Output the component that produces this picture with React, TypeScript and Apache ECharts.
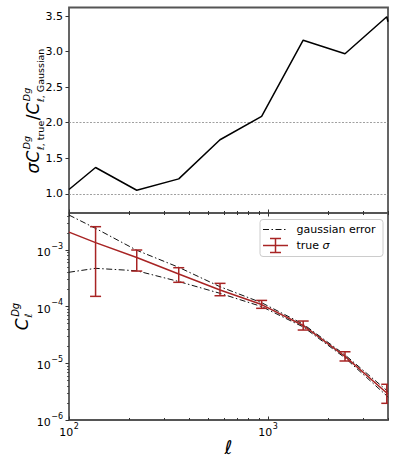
import React, { useEffect, useRef } from 'react';
import * as echarts from 'echarts';

// ---------------- data ----------------
const ELL_BINS = [136, 219, 356, 574, 929, 1503, 2438, 3954];
const RATIO_ELL = [100, 136, 219, 356, 574, 929, 1503, 2438, 3954, 4010];
const RATIO = [1.06, 1.37, 1.05, 1.21, 1.76, 2.09, 3.16, 2.97, 3.49, 3.42];
const CURVE_ELL = [100, 136, 219, 356, 574, 929, 1503, 2438, 3954, 4010];
const CL_TRUE = [2.07e-3, 1.35e-3, 7.38e-4, 3.77e-4, 1.97e-4, 1.09e-4, 4.66e-5, 1.33e-5, 3.0e-6, 2.85e-6];
const GAUSS_UP = [4.14e-3, 2.41e-3, 9.9e-4, 4.95e-4, 2.25e-4, 1.175e-4, 4.93e-5, 1.41e-5, 3.33e-6, 3.17e-6];
const GAUSS_LO = [4.05e-4, 4.75e-4, 4.3e-4, 2.78e-4, 1.72e-4, 1.005e-4, 4.39e-5, 1.25e-5, 2.67e-6, 2.53e-6];
const BAR_LO = [1.52e-4, 4.25e-4, 2.69e-4, 1.56e-4, 9.35e-5, 3.87e-5, 1.1e-5, 1.97e-6];
const BAR_HI = [2.58e-3, 1.0e-3, 4.87e-4, 2.58e-4, 1.29e-4, 5.58e-5, 1.6e-5, 4.27e-6];

const X_MIN = 100;
const X_MAX = 4010;
const X_MAJOR = [100, 1000];
const X_MINOR = [200, 300, 400, 500, 600, 700, 800, 900, 2000, 3000, 4000];
const Y_TOP_MIN = 0.73;
const Y_TOP_MAX = 3.62;
const Y_TOP_TICKS = [1.0, 1.5, 2.0, 2.5, 3.0, 3.5];
const REF_LINES = [1, 2];
const Y_BOT_MIN = 1e-6;
const Y_BOT_MAX = 4.5e-3;
const Y_BOT_MAJOR = [1e-6, 1e-5, 1e-4, 1e-3];
const Y_BOT_MINOR = [
  2e-6, 3e-6, 4e-6, 5e-6, 6e-6, 7e-6, 8e-6, 9e-6,
  2e-5, 3e-5, 4e-5, 5e-5, 6e-5, 7e-5, 8e-5, 9e-5,
  2e-4, 3e-4, 4e-4, 5e-4, 6e-4, 7e-4, 8e-4, 9e-4,
  2e-3, 3e-3, 4e-3,
];
const LEGEND_LABELS = ['gaussian error', 'true '];

// ---------------- style ----------------
const FONT = 'DejaVu Sans';
const RED = '#a82424';
const SPINE = '#555555';
const TICK = '#333333';

const pow10Label = (v: number) => {
  const e = Math.round(Math.log10(v));
  return `{b|10}{s|${String(e).replace('-', '\u2212')}}`;
};
const powRich = {
  b: { fontSize: 11, fontFamily: FONT, color: '#000', lineHeight: 16, verticalAlign: 'bottom' },
  s: { fontSize: 8, fontFamily: FONT, color: '#000', lineHeight: 16, verticalAlign: 'top', padding: [0, 0, 0, 0.5] },
};

let ctx: CanvasRenderingContext2D | null = null;
const measure = (text: string, size: number, italic: boolean) => {
  if (!ctx) ctx = document.createElement('canvas').getContext('2d');
  if (!ctx) return text.length * size * 0.6;
  ctx.font = `${italic ? 'italic ' : ''}${size}px "${FONT}"`;
  return ctx.measureText(text).width;
};

const tx = (x: number, y: number, text: string, size: number, italic: boolean, extra: any = {}) => ({
  type: 'text',
  x,
  y,
  style: {
    text,
    fontSize: size,
    fontFamily: FONT,
    fontStyle: italic ? 'italic' : 'normal',
    fill: '#000',
    align: 'left',
    verticalAlign: 'middle',
    ...extra,
  },
});

const richScript = (x: number, y: number, rest: string, size: number) => ({
  type: 'text',
  x,
  y,
  style: {
    text: `{i|\u2113}{r|${rest}}`,
    fontSize: size,
    fontFamily: FONT,
    fill: '#000',
    align: 'left',
    verticalAlign: 'middle',
    rich: {
      i: { fontSize: size, fontFamily: FONT, fontStyle: 'italic', fill: '#000' },
      r: { fontSize: size, fontFamily: FONT, fontStyle: 'normal', fill: '#000' },
    },
  },
});

function buildTopLabel() {
  const F = 17;
  const S = 9.5;
  const mainY = -0.33 * F;
  const supY = -9 - 0.33 * S;
  const subY = 4.5 - 0.33 * S;
  const children: any[] = [];
  let x = 0;
  children.push(tx(x, mainY, '\u03c3C', F, true));
  x += measure('\u03c3C', F, true) + 0.5;
  children.push(tx(x + 1, supY, 'Dg', S, true));
  children.push(richScript(x, subY, ', true', S));
  x += Math.max(measure('Dg', S, true) + 1, measure('\u2113', S, true) + measure(', true', S, false)) + 0.5;
  children.push(tx(x, mainY, '/', F, false));
  x += measure('/', F, false);
  children.push(tx(x, mainY, 'C', F, true));
  x += measure('C', F, true) + 0.5;
  children.push(tx(x + 1, supY, 'Dg', S, true));
  children.push(richScript(x, subY, ', Gaussian', S));
  x += Math.max(measure('Dg', S, true) + 1, measure('\u2113', S, true) + measure(', Gaussian', S, false));
  const centerY = 111;
  return { type: 'group', x: 39, y: centerY + x / 2, rotation: Math.PI / 2, children };
}

function buildBottomLabel() {
  const F = 17;
  const S = 10;
  const children: any[] = [];
  children.push(tx(0, -0.33 * F, 'C', F, true));
  const x = measure('C', F, true) + 0.5;
  children.push(tx(x + 1, -9 - 0.33 * S, 'Dg', S, true));
  children.push(tx(x, 4 - 0.33 * S, '\u2113', S, true));
  const L = x + measure('Dg', S, true) + 1;
  return { type: 'group', x: 28, y: 316.5 + L / 2, rotation: Math.PI / 2, children };
}

function buildLegend() {
  const z = 100;
  const lx = 263;
  const lw = 25;
  const y1 = 229.5;
  const y2 = 245.5;
  return {
    type: 'group',
    z,
    children: [
      {
        type: 'rect', z,
        shape: { x: 260, y: 219.5, width: 123, height: 37, r: 3 },
        style: { fill: 'rgba(255,255,255,0.85)', stroke: '#cccccc', lineWidth: 1 },
      },
      {
        type: 'line', z: z + 1,
        shape: { x1: lx, y1, x2: lx + lw, y2: y1 },
        style: { stroke: '#111', lineWidth: 1, lineDash: [6, 2.5, 1.5, 2.5] },
      },
      { ...tx(296.5, y1, LEGEND_LABELS[0], 11, false), z: z + 1 },
      {
        type: 'line', z: z + 1,
        shape: { x1: lx, y1: y2, x2: lx + lw, y2 },
        style: { stroke: RED, lineWidth: 1.5 },
      },
      {
        type: 'line', z: z + 1,
        shape: { x1: lx + lw / 2, y1: y2 - 7, x2: lx + lw / 2, y2: y2 + 7 },
        style: { stroke: RED, lineWidth: 1.5 },
      },
      {
        type: 'line', z: z + 1,
        shape: { x1: lx + lw / 2 - 5.5, y1: y2 - 7, x2: lx + lw / 2 + 5.5, y2: y2 - 7 },
        style: { stroke: RED, lineWidth: 1.5 },
      },
      {
        type: 'line', z: z + 1,
        shape: { x1: lx + lw / 2 - 5.5, y1: y2 + 7, x2: lx + lw / 2 + 5.5, y2: y2 + 7 },
        style: { stroke: RED, lineWidth: 1.5 },
      },
      {
        type: 'text', z: z + 1, x: 296.5, y: y2,
        style: {
          text: `{n|${LEGEND_LABELS[1]}}{s|\u03c3}`,
          fontSize: 11, fontFamily: FONT, fill: '#000', align: 'left', verticalAlign: 'middle',
          rich: {
            n: { fontSize: 11, fontFamily: FONT, fill: '#000' },
            s: { fontSize: 11, fontFamily: FONT, fontStyle: 'italic', fill: '#000' },
          },
        },
      },
    ],
  };
}

const labelStyle = { color: '#000', fontSize: 11, fontFamily: FONT };

const xAxisDef = (gridIndex: number, position: string, ticks: number[], len: number, labels: boolean) => ({
  type: 'log',
  logBase: 10,
  gridIndex,
  position,
  min: X_MIN,
  max: X_MAX,
  axisLine: { show: false, onZero: false },
  splitLine: { show: false },
  minorTick: { show: false },
  minorSplitLine: { show: false },
  axisTick: { show: true, inside: true, length: len, customValues: ticks, lineStyle: { color: TICK, width: 1 } },
  axisLabel: labels
    ? { show: true, customValues: ticks, formatter: (v: number) => pow10Label(v), margin: 2, rich: powRich, ...labelStyle }
    : { show: false },
});

function buildOption(): any {
  const ratioData = RATIO_ELL.map((l, i) => [l, RATIO[i]]);
  const up = CURVE_ELL.map((l, i) => [l, GAUSS_UP[i]]);
  const lo = CURVE_ELL.map((l, i) => [l, GAUSS_LO[i]]);
  const tr = CURVE_ELL.map((l, i) => [l, CL_TRUE[i]]);
  const bars = ELL_BINS.map((l, i) => [l, BAR_LO[i], BAR_HI[i]]);
  const dashDot = [6, 2.5, 1.5, 2.5];

  return {
    animation: false,
    backgroundColor: '#fff',
    grid: [
      {
        left: 69, right: 9, top: 7.5, height: 205.5,
        show: true, borderColor: SPINE, borderWidth: 1.8, backgroundColor: 'transparent',
        containLabel: false, outerBoundsMode: 'none',
      },
      {
        left: 69, right: 9, top: 213, bottom: 50,
        show: true, borderColor: SPINE, borderWidth: 1.8, backgroundColor: 'transparent',
        containLabel: false, outerBoundsMode: 'none',
      },
    ],
    xAxis: [
      xAxisDef(0, 'bottom', X_MAJOR, 3.5, false),
      xAxisDef(0, 'bottom', X_MINOR, 2, false),
      xAxisDef(1, 'top', X_MAJOR, 3.5, false),
      xAxisDef(1, 'top', X_MINOR, 2, false),
      xAxisDef(1, 'bottom', X_MAJOR, 3.5, true),
      xAxisDef(1, 'bottom', X_MINOR, 2, false),
    ],
    yAxis: [
      {
        type: 'value', gridIndex: 0, position: 'left', min: Y_TOP_MIN, max: Y_TOP_MAX,
        axisLine: { show: false, onZero: false }, splitLine: { show: false },
        axisTick: { show: true, inside: false, length: 3.5, customValues: Y_TOP_TICKS, lineStyle: { color: TICK, width: 1 } },
        axisLabel: { show: true, customValues: Y_TOP_TICKS, formatter: (v: number) => v.toFixed(1), margin: 6, ...labelStyle },
      },
      {
        type: 'log', logBase: 10, gridIndex: 1, position: 'left', min: Y_BOT_MIN, max: Y_BOT_MAX,
        axisLine: { show: false, onZero: false }, splitLine: { show: false },
        minorTick: { show: false }, minorSplitLine: { show: false },
        axisTick: { show: true, inside: false, length: 3.5, customValues: Y_BOT_MAJOR, lineStyle: { color: TICK, width: 1 } },
        axisLabel: { show: true, customValues: Y_BOT_MAJOR, formatter: (v: number) => pow10Label(v), margin: 6, rich: powRich, ...labelStyle },
      },
      {
        type: 'log', logBase: 10, gridIndex: 1, position: 'left', min: Y_BOT_MIN, max: Y_BOT_MAX,
        axisLine: { show: false, onZero: false }, splitLine: { show: false },
        minorTick: { show: false }, minorSplitLine: { show: false },
        axisTick: { show: true, inside: false, length: 2, customValues: Y_BOT_MINOR, lineStyle: { color: TICK, width: 0.8 } },
        axisLabel: { show: false },
      },
    ],
    series: [
      {
        type: 'line', xAxisIndex: 0, yAxisIndex: 0, data: ratioData,
        symbol: 'none', lineStyle: { color: '#000', width: 1.5 }, z: 5,
        markLine: {
          silent: true, symbol: 'none', label: { show: false },
          lineStyle: { color: '#888', width: 0.8, type: [2, 1.5] },
          data: REF_LINES.map((v) => ({ yAxis: v })),
          z: 2,
        },
      },
      {
        type: 'line', xAxisIndex: 4, yAxisIndex: 1, data: tr,
        symbol: 'none', lineStyle: { color: RED, width: 1.5 }, z: 3,
      },
      {
        type: 'line', xAxisIndex: 4, yAxisIndex: 1, data: up,
        symbol: 'none', lineStyle: { color: '#111', width: 1, type: dashDot }, z: 4,
      },
      {
        type: 'line', xAxisIndex: 4, yAxisIndex: 1, data: lo,
        symbol: 'none', lineStyle: { color: '#111', width: 1, type: dashDot }, z: 4,
      },
      {
        type: 'custom', xAxisIndex: 4, yAxisIndex: 1, data: bars, clip: true, z: 6,
        encode: { x: 0, y: [1, 2] },
        renderItem: (params: any, api: any) => {
          const l = api.value(0);
          const pLo = api.coord([l, api.value(1)]);
          const pHi = api.coord([l, api.value(2)]);
          const cap = 5.5;
          const st = { stroke: RED, lineWidth: 1.5 };
          return {
            type: 'group',
            children: [
              { type: 'line', shape: { x1: pLo[0], y1: pLo[1], x2: pHi[0], y2: pHi[1] }, style: st },
              { type: 'line', shape: { x1: pLo[0] - cap, y1: pLo[1], x2: pLo[0] + cap, y2: pLo[1] }, style: st },
              { type: 'line', shape: { x1: pHi[0] - cap, y1: pHi[1], x2: pHi[0] + cap, y2: pHi[1] }, style: st },
            ],
          };
        },
      },
    ],
    graphic: [
      buildTopLabel(),
      buildBottomLabel(),
      { type: 'text', x: 228.5, y: 447, style: { text: '\u2113', fontSize: 19, fontFamily: FONT, fontStyle: 'italic', fill: '#000', align: 'center', verticalAlign: 'middle' } },
      buildLegend(),
    ],
  };
}

export default function App() {
  const ref = useRef<HTMLDivElement>(null);
  useEffect(() => {
    if (!ref.current) return;
    const chart = echarts.init(ref.current, null, { renderer: 'svg' });
    chart.setOption(buildOption());
    return () => chart.dispose();
  }, []);
  return (
    <div
      ref={ref}
      style={{ position: 'fixed', left: 0, top: 0, width: 397, height: 470, background: '#fff' }}
    />
  );
}
